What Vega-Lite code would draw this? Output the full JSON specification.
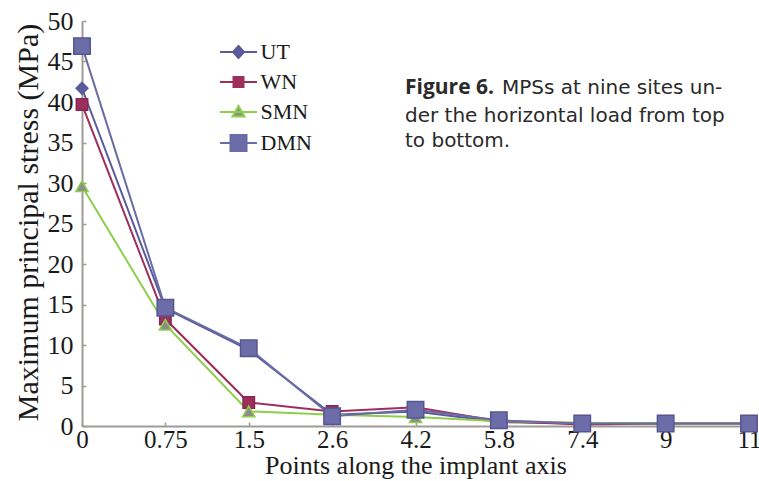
{
  "$schema": "https://vega.github.io/schema/vega-lite/v6.json",
  "width": 667,
  "height": 405,
  "autosize": {"type": "none"},
  "padding": {"left": 82, "top": 21, "right": 10, "bottom": 55},
  "background": "white",
  "config": {
    "view": {"stroke": null},
    "axis": {
      "grid": false,
      "domainColor": "#a09b97",
      "domainWidth": 2,
      "tickColor": "#a09b97",
      "tickWidth": 1.5,
      "tickSize": -4,
      "labelFont": "Liberation Serif",
      "labelColor": "#1a1a1a",
      "titleFont": "Liberation Serif",
      "titleColor": "#1a1a1a",
      "titleFontWeight": "normal"
    }
  },
  "data": {
    "values": [
      {"series": "UT", "pt": "0", "v": 41.7},
      {"series": "UT", "pt": "0.75", "v": 14.5},
      {"series": "UT", "pt": "1.5", "v": 9.4},
      {"series": "UT", "pt": "2.6", "v": 1.4},
      {"series": "UT", "pt": "4.2", "v": 1.8},
      {"series": "UT", "pt": "5.8", "v": 0.5},
      {"series": "UT", "pt": "7.4", "v": 0.3},
      {"series": "UT", "pt": "9", "v": 0.3},
      {"series": "UT", "pt": "11", "v": 0.3},
      {"series": "WN", "pt": "0", "v": 39.7},
      {"series": "WN", "pt": "0.75", "v": 13.2},
      {"series": "WN", "pt": "1.5", "v": 2.9},
      {"series": "WN", "pt": "2.6", "v": 1.8},
      {"series": "WN", "pt": "4.2", "v": 2.3},
      {"series": "WN", "pt": "5.8", "v": 0.6},
      {"series": "WN", "pt": "7.4", "v": 0.2},
      {"series": "WN", "pt": "9", "v": 0.3},
      {"series": "WN", "pt": "11", "v": 0.3},
      {"series": "SMN", "pt": "0", "v": 29.6},
      {"series": "SMN", "pt": "0.75", "v": 12.5},
      {"series": "SMN", "pt": "1.5", "v": 1.8},
      {"series": "SMN", "pt": "2.6", "v": 1.4},
      {"series": "SMN", "pt": "4.2", "v": 1.1},
      {"series": "SMN", "pt": "5.8", "v": 0.6},
      {"series": "SMN", "pt": "7.4", "v": 0.4},
      {"series": "SMN", "pt": "9", "v": 0.3},
      {"series": "SMN", "pt": "11", "v": 0.3},
      {"series": "DMN", "pt": "0", "v": 46.9},
      {"series": "DMN", "pt": "0.75", "v": 14.6},
      {"series": "DMN", "pt": "1.5", "v": 9.6},
      {"series": "DMN", "pt": "2.6", "v": 1.2},
      {"series": "DMN", "pt": "4.2", "v": 2.0},
      {"series": "DMN", "pt": "5.8", "v": 0.7},
      {"series": "DMN", "pt": "7.4", "v": 0.3},
      {"series": "DMN", "pt": "9", "v": 0.3},
      {"series": "DMN", "pt": "11", "v": 0.3}
    ]
  },
  "encoding": {
    "x": {
      "field": "pt",
      "type": "ordinal",
      "sort": ["0", "0.75", "1.5", "2.6", "4.2", "5.8", "7.4", "9", "11"],
      "scale": {"type": "point", "padding": 0},
      "axis": {
        "labelAngle": 0,
        "labelFontSize": 25,
        "labelPadding": 5,
        "title": "Points along the implant axis",
        "titleFontSize": 26,
        "titleBaseline": "top",
        "titleY": 26
      }
    },
    "y": {
      "field": "v",
      "type": "quantitative",
      "scale": {"domain": [0, 50], "nice": false},
      "axis": {
        "values": [0, 5, 10, 15, 20, 25, 30, 35, 40, 45, 50],
        "labelFontSize": 26,
        "labelPadding": 13,
        "title": "Maximum principal stress (MPa)",
        "titleFontSize": 30,
        "titleX": -54,
        "titleY": 201,
        "titleBaseline": "middle",
        "titleAlign": "center",
        "titleAngle": -90
      }
    }
  },
  "layer": [
    {
      "mark": {"type": "line", "strokeWidth": 2},
      "encoding": {
        "stroke": {
          "field": "series", "type": "nominal",
          "scale": {"domain": ["UT", "WN", "SMN", "DMN"], "range": ["#5a5a9c", "#9c2f5c", "#8dcf4b", "#6b6ba6"]},
          "legend": null
        }
      }
    },
    {
      "mark": {"type": "point", "filled": true, "opacity": 1, "strokeWidth": 1.5},
      "encoding": {
        "shape": {
          "field": "series", "type": "nominal",
          "scale": {"domain": ["UT", "WN", "SMN", "DMN"], "range": ["diamond", "square", "triangle-up", "square"]},
          "legend": null
        },
        "fill": {
          "field": "series", "type": "nominal",
          "scale": {"domain": ["UT", "WN", "SMN", "DMN"], "range": ["#5a5a9c", "#9c2f5c", "#8c8c8c", "#6c6ca8"]},
          "legend": null
        },
        "stroke": {
          "field": "series", "type": "nominal",
          "scale": {"domain": ["UT", "WN", "SMN", "DMN"], "range": ["#5a5a9c", "#8a2650", "#8dcf4b", "#55558f"]},
          "legend": null
        },
        "size": {
          "field": "series", "type": "nominal",
          "scale": {"type": "ordinal", "domain": ["UT", "WN", "SMN", "DMN"], "range": [140, 130, 150, 270]},
          "legend": null
        }
      }
    },
    {
      "mark": {"type": "point", "filled": true, "opacity": 0},
      "encoding": {
        "shape": {
          "field": "series", "type": "nominal",
          "scale": {"domain": ["UT", "WN", "SMN", "DMN"], "range": [
            "M-1.85,0H1.85M0,-0.6L0.55,0L0,0.6L-0.55,0Z",
            "M-1.85,0H1.85M-0.5,-0.5H0.5V0.5H-0.5Z",
            "M-1.85,0H1.85M0,-0.6L0.6,0.45H-0.6Z",
            "M-1.85,0H1.85M-0.8,-0.8H0.8V0.8H-0.8Z"
          ]},
          "legend": {
            "title": null, "orient": "none", "legendX": 145.5, "legendY": 20,
            "symbolSize": 400, "symbolStrokeWidth": 2, "symbolOpacity": 1,
            "labelFont": "Liberation Serif", "labelFontSize": 22, "labelColor": "#1a1a1a",
            "labelOffset": 11, "rowPadding": 8, "padding": 0
          }
        },
        "fill": {
          "field": "series", "type": "nominal",
          "scale": {"domain": ["UT", "WN", "SMN", "DMN"], "range": ["#5a5a9c", "#9c2f5c", "#8c8c8c", "#6c6ca8"]},
          "legend": {
            "title": null, "orient": "none", "legendX": 145.5, "legendY": 20,
            "symbolSize": 400, "symbolStrokeWidth": 2, "symbolOpacity": 1,
            "labelFont": "Liberation Serif", "labelFontSize": 22, "labelColor": "#1a1a1a",
            "labelOffset": 11, "rowPadding": 8, "padding": 0
          }
        },
        "stroke": {
          "field": "series", "type": "nominal",
          "scale": {"domain": ["UT", "WN", "SMN", "DMN"], "range": ["#5a5a9c", "#9c2f5c", "#8dcf4b", "#6b6ba6"]},
          "legend": {
            "title": null, "orient": "none", "legendX": 145.5, "legendY": 20,
            "symbolSize": 400, "symbolStrokeWidth": 2, "symbolOpacity": 1,
            "labelFont": "Liberation Serif", "labelFontSize": 22, "labelColor": "#1a1a1a",
            "labelOffset": 11, "rowPadding": 8, "padding": 0
          }
        }
      }
    },
    {
      "transform": [{"filter": "datum.series == 'UT' && datum.pt == '0'"}],
      "mark": {"type": "text", "text": "Figure 6.", "font": "Open Sans", "fontSize": 21, "fontWeight": "bold", "fill": "#2a2a2a", "align": "left", "baseline": "alphabetic", "dx": -10.5},
      "encoding": {"x": {"datum": "4.2"}, "y": {"datum": 40.93}}
    },
    {
      "transform": [{"filter": "datum.series == 'UT' && datum.pt == '0'"}],
      "mark": {"type": "text", "text": "MPSs at nine sites un-", "font": "DejaVu Sans", "fontSize": 20, "fill": "#2a2a2a", "align": "left", "baseline": "alphabetic", "dx": 86.5},
      "encoding": {"x": {"datum": "4.2"}, "y": {"datum": 40.93}}
    },
    {
      "transform": [{"filter": "datum.series == 'UT' && datum.pt == '0'"}],
      "mark": {"type": "text", "text": ["der the horizontal load from top", "to bottom."], "lineHeight": 25.5, "font": "DejaVu Sans", "fontSize": 20, "fill": "#2a2a2a", "align": "left", "baseline": "alphabetic", "dx": -10.5},
      "encoding": {"x": {"datum": "4.2"}, "y": {"datum": 37.59}}
    }
  ],
  "resolve": {
    "scale": {"shape": "independent", "fill": "independent", "stroke": "independent", "size": "independent"},
    "legend": {"shape": "independent", "fill": "independent", "stroke": "independent", "size": "independent"}
  }
}
